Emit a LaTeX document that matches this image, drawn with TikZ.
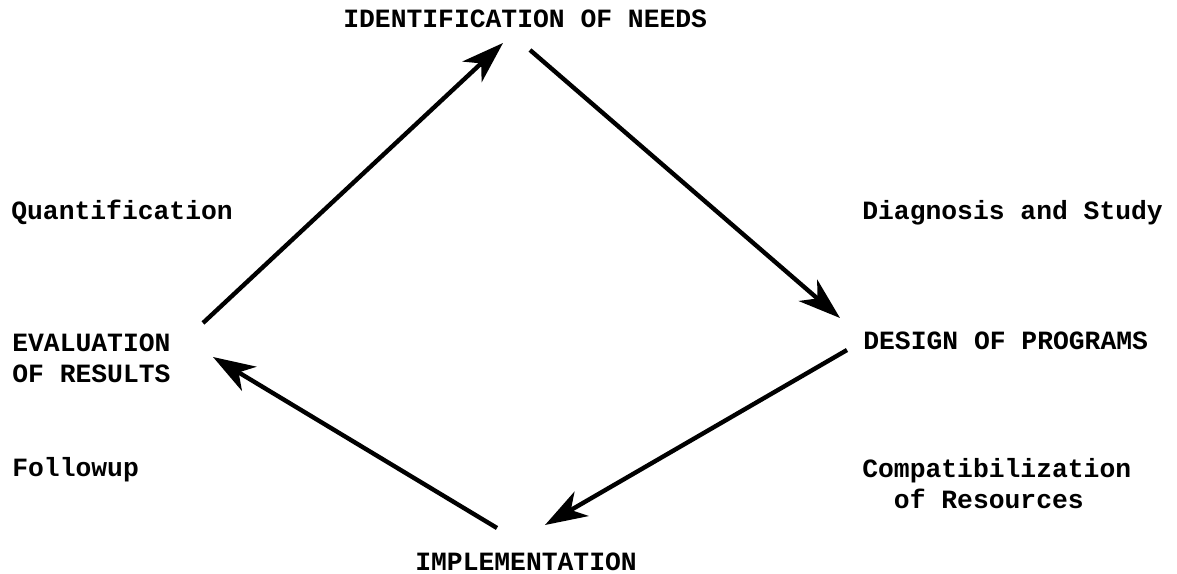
\documentclass[tikz,border=0pt]{standalone}
\usepackage{fontspec}
\setmonofont{Liberation Mono}
\usetikzlibrary{arrows.meta}
\usetikzlibrary{positioning}

\begin{document}
\begin{tikzpicture}[x=0.02cm, y=-0.02cm,
    stage/.style={font=\ttfamily\bfseries\fontsize{15}{17.6}\selectfont, inner sep=0pt, align=left},
    flow/.style={-{Stealth[length=24pt, width=16pt, inset=7pt]}, line width=2.5pt}]
  \useasboundingbox (0,0) rectangle (1177,574);

  % stages of the cycle
  \node[stage, anchor=base west] (needs) at (343,28) {IDENTIFICATION OF NEEDS};
  \node[stage, anchor=base west] (design) at (863,350) {DESIGN OF PROGRAMS};
  \node[stage, anchor=base west] (impl) at (415,570) {IMPLEMENTATION};
  \node[stage, anchor=base west] (eval) at (12,382) {EVALUATION\\OF RESULTS};

  % activities between stages
  \node[stage, anchor=base west] (quant) at (11,220) {Quantification};
  \node[stage, anchor=base west] (diag) at (862,220) {Diagnosis and Study};
  \node[stage, anchor=base west] (follow) at (12,476) {Followup};
  \node[stage, anchor=base west] (compat) at (862,508) {Compatibilization\\\hphantom{Co}of Resources};

  % arrow ends
  \coordinate (evalout) at (203,323);
  \coordinate (needsin) at (503,43);
  \coordinate (needsout) at (530,50);
  \coordinate (designin) at (840,318);
  \coordinate (designout) at (847,350);
  \coordinate (implin) at (545,525);
  \coordinate (implout) at (497,528);
  \coordinate (evalin) at (213,357);

  \draw[flow] (evalout) -- (needsin);
  \draw[flow] (needsout) -- (designin);
  \draw[flow] (designout) -- (implin);
  \draw[flow] (implout) -- (evalin);
\end{tikzpicture}
\end{document}
